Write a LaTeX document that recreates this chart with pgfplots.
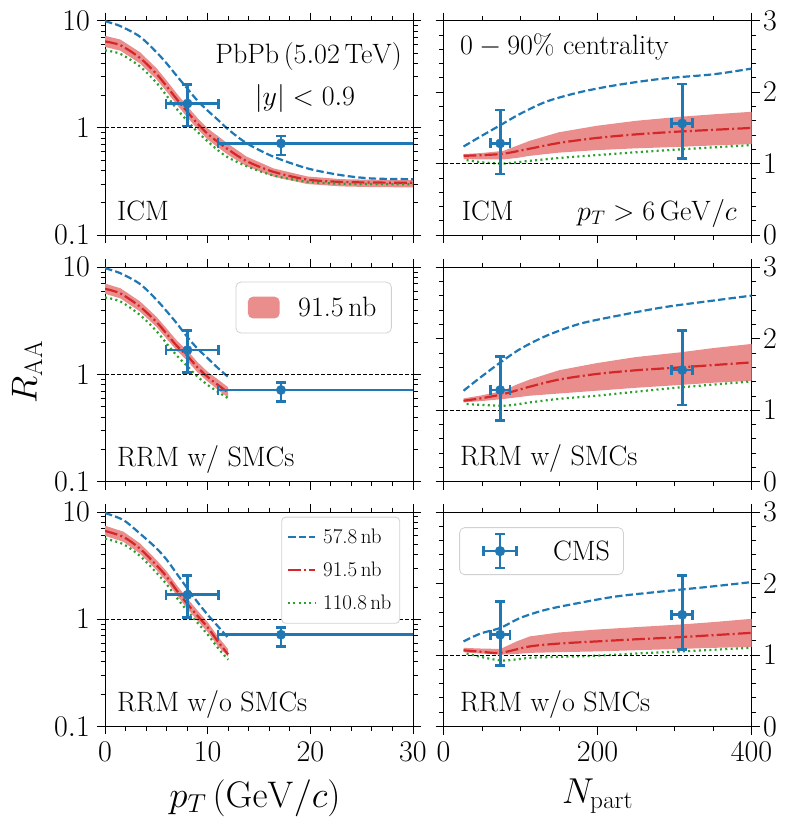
\RequirePackage{fix-cm}
\documentclass[border=0pt]{standalone}
\usepackage{pgfplots}
\pgfplotsset{compat=1.18}
\definecolor{tabblue}{HTML}{1F77B4}
\definecolor{tabred}{HTML}{D62728}
\definecolor{tabgreen}{HTML}{2CA02C}
\definecolor{bandred}{RGB}{233,141,141}
\newcommand{\myfs}[1]{\fontsize{#1}{#1}\selectfont}
\tikzset{
  blueline/.style={tabblue, line width=2.2pt, dash pattern=on 7.4pt off 3.2pt, smooth, mark=none},
  redline/.style={tabred, line width=2.2pt, dash pattern=on 12.8pt off 3.2pt on 2pt off 3.2pt, smooth, mark=none},
  greenline/.style={tabgreen, line width=2.2pt, dash pattern=on 2pt off 3.3pt, smooth, mark=none},
  oneline/.style={black, line width=0.9pt, dash pattern=on 4pt off 2pt, mark=none},
  band/.style={fill=bandred, draw=none, mark=none},
  ebar/.style={tabblue, line width=2.7pt, solid, mark=none},
}
\pgfplotsset{every axis/.append style={scale only axis, width=308pt, height=214.5pt,
    tick align=outside, major tick length=8pt, minor tick length=4.5pt}}
\begin{document}
\begin{tikzpicture}
\useasboundingbox (0pt,0pt) rectangle (789pt,-824pt);

% ---------------- top left: ICM ----------------
\begin{axis}[at={(105pt,-20.7pt)}, anchor=north west,
  axis line style={line width=0.9pt}, tick style={line width=0.9pt, black},
  tick label style={font=\myfs{30}, inner sep=2pt}, xticklabel style={yshift=-5pt}, yticklabel style={xshift=-5pt},
  ymode=log, ymin=0.1, ymax=10, xmin=0, xmax=30,
  xtick={0,10,20,30}, minor xtick={2,4,6,8,12,14,16,18,22,24,26,28}, xticklabels={},
  ytick={0.1,1,10}, yticklabels={$0.1$,$1$,$10$},
  minor ytick={0.2,0.3,0.4,0.5,0.6,0.7,0.8,0.9,2,3,4,5,6,7,8,9}]
\addplot[band, forget plot] coordinates {(0,7.23) (1.5,6.67) (3.4,5.09) (5,3.62) (6,2.77) (7,2.09) (8,1.60) (9,1.24) (10,0.99) (11,0.84) (12,0.71) (13.8,0.54) (16.4,0.42) (19.7,0.353) (23,0.333) (26,0.329) (30,0.326)
 (30,0.279) (26,0.281) (23,0.285) (19.7,0.30) (16.4,0.352) (13.8,0.44) (12,0.56) (11,0.66) (10,0.78) (9,0.98) (8,1.26) (7,1.65) (6,2.18) (5,2.85) (3.4,4.0) (1.5,5.25) (0,5.70)};
\addplot[blueline, forget plot] coordinates {(0,9.9) (1.5,8.9) (3.4,7.1) (5,5.1) (6,4.0) (7,3.05) (8,2.34) (9,1.8) (10,1.45) (11,1.19) (12,0.97) (13.8,0.72) (16.4,0.54) (19.7,0.42) (23,0.363) (26,0.338) (30,0.333)};
\addplot[redline, forget plot] coordinates {(0,6.4) (1.5,5.9) (3.4,4.5) (5,3.2) (6,2.45) (7,1.85) (8,1.42) (9,1.1) (10,0.88) (11,0.74) (12,0.63) (13.8,0.49) (16.4,0.39) (19.7,0.33) (23,0.314) (26,0.31) (30,0.308)};
\addplot[greenline, forget plot] coordinates {(0,5.3) (1.5,4.9) (3.4,3.75) (5,2.65) (6,2.0) (7,1.5) (8,1.17) (9,0.92) (10,0.75) (11,0.62) (12,0.53) (13.8,0.44) (16.4,0.36) (19.7,0.315) (23,0.302) (26,0.3) (30,0.298)};
\addplot[oneline, forget plot] coordinates {(0,1) (30,1)};
\addplot[ebar, forget plot] coordinates {(8.03,1.04) (8.03,2.56)};
\addplot[ebar, forget plot] coordinates {(5.95,1.69) (11.06,1.69)};
\addplot[ebar, forget plot] coordinates {(17.14,0.56) (17.14,0.84)};
\addplot[ebar, forget plot] coordinates {(11.0,0.718) (50,0.718)};
\addplot[tabblue, only marks, mark=-, mark size=5pt, mark options={line width=2.7pt, solid}, forget plot] coordinates {(8.03,1.04) (8.03,2.56) (17.14,0.56) (17.14,0.84)};
\addplot[tabblue, only marks, mark=|, mark size=5pt, mark options={line width=2.7pt, solid}, forget plot] coordinates {(5.95,1.69) (11.06,1.69) (11.0,0.718)};
\addplot[tabblue, only marks, mark=*, mark size=4.7pt, forget plot] coordinates {(8.03,1.69) (17.14,0.718)};
\end{axis}

% ---------------- middle left: RRM w/ SMCs ----------------
\begin{axis}[at={(105pt,-267.3pt)}, anchor=north west,
  axis line style={line width=0.9pt}, tick style={line width=0.9pt, black},
  tick label style={font=\myfs{30}, inner sep=2pt}, xticklabel style={yshift=-5pt}, yticklabel style={xshift=-5pt},
  ymode=log, ymin=0.1, ymax=10, xmin=0, xmax=30,
  xtick={0,10,20,30}, minor xtick={2,4,6,8,12,14,16,18,22,24,26,28}, xticklabels={},
  ytick={0.1,1,10}, yticklabels={$0.1$,$1$,$10$},
  minor ytick={0.2,0.3,0.4,0.5,0.6,0.7,0.8,0.9,2,3,4,5,6,7,8,9},
  legend style={at={(0.931,0.933)}, anchor=north east, font=\myfs{28}, inner xsep=12pt, inner ysep=12pt,
    nodes={inner sep=3pt}, draw=black!18, line width=0.8pt, rounded corners=5pt, fill=white},
  legend image code/.code={\path[draw=none, fill=none] (0pt,-10.85pt) rectangle (47.3pt,10.85pt); \fill[bandred] (0pt,-10.85pt) rectangle (31.7pt,10.85pt);}]
\addplot[band] coordinates {(0,7.06) (1.5,6.38) (3.4,4.82) (5,3.47) (6,2.69) (7,2.07) (8,1.68) (9,1.31) (10,1.06) (11,0.90) (12,0.76)
 (12,0.61) (11,0.72) (10,0.86) (9,1.05) (8,1.35) (7,1.67) (6,2.16) (5,2.79) (3.4,3.87) (1.5,5.13) (0,5.67)};
\addlegendentry{91.5\,nb}
\addplot[blueline, forget plot] coordinates {(0,9.8) (1.5,8.8) (3.4,7.0) (5,5.0) (6,3.9) (7,3.0) (8,2.25) (9,1.75) (10,1.42) (11,1.15) (12,0.95)};
\addplot[redline, forget plot] coordinates {(0,6.3) (1.5,5.7) (3.4,4.3) (5,3.1) (6,2.4) (7,1.85) (8,1.5) (9,1.17) (10,0.95) (11,0.8) (12,0.68)};
\addplot[greenline, forget plot] coordinates {(0,5.24) (1.5,4.8) (3.4,3.6) (5,2.55) (6,1.95) (7,1.5) (8,1.2) (9,0.96) (10,0.8) (11,0.69) (12,0.6)};
\addplot[oneline, forget plot] coordinates {(0,1) (30,1)};
\addplot[ebar, forget plot] coordinates {(8.03,1.04) (8.03,2.56)};
\addplot[ebar, forget plot] coordinates {(5.95,1.69) (11.06,1.69)};
\addplot[ebar, forget plot] coordinates {(17.14,0.56) (17.14,0.84)};
\addplot[ebar, forget plot] coordinates {(11.0,0.718) (50,0.718)};
\addplot[tabblue, only marks, mark=-, mark size=5pt, mark options={line width=2.7pt, solid}, forget plot] coordinates {(8.03,1.04) (8.03,2.56) (17.14,0.56) (17.14,0.84)};
\addplot[tabblue, only marks, mark=|, mark size=5pt, mark options={line width=2.7pt, solid}, forget plot] coordinates {(5.95,1.69) (11.06,1.69) (11.0,0.718)};
\addplot[tabblue, only marks, mark=*, mark size=4.7pt, forget plot] coordinates {(8.03,1.69) (17.14,0.718)};
\end{axis}

% ---------------- bottom left: RRM w/o SMCs ----------------
\begin{axis}[at={(105pt,-512pt)}, anchor=north west,
  axis line style={line width=0.9pt}, tick style={line width=0.9pt, black},
  tick label style={font=\myfs{30}, inner sep=2pt}, xticklabel style={yshift=-5pt}, yticklabel style={xshift=-5pt},
  ymode=log, ymin=0.1, ymax=10, xmin=0, xmax=30,
  xtick={0,10,20,30}, minor xtick={2,4,6,8,12,14,16,18,22,24,26,28}, xticklabels={$0$,$10$,$20$,$30$},
  ytick={0.1,1,10}, yticklabels={$0.1$,$1$,$10$},
  minor ytick={0.2,0.3,0.4,0.5,0.6,0.7,0.8,0.9,2,3,4,5,6,7,8,9},
  legend style={at={(0.958,0.978)}, anchor=north east, font=\myfs{21}, inner xsep=5.3pt, inner ysep=9pt, row sep=11pt,
    nodes={inner sep=3pt}, draw=black!18, line width=0.8pt, rounded corners=4pt, fill=white},
  legend cell align=left,
  legend image code/.code={\path[draw=none, fill=none] (0pt,0pt) -- (32pt,0pt); \draw[#1] (0pt,0pt) -- (26.7pt,0pt);}]
\addplot[band, forget plot] coordinates {(0,7.46) (1.8,6.55) (3.4,5.11) (5,3.58) (6,2.8) (7,2.07) (8,1.57) (9,1.21) (10,0.94) (11,0.69) (12,0.525)
 (12,0.447) (11,0.56) (10,0.76) (9,0.97) (8,1.26) (7,1.67) (6,2.25) (5,2.88) (3.4,4.1) (1.8,5.27) (0,6.0)};
\addplot[blueline] coordinates {(0,9.8) (1.8,8.4) (3.4,6.3) (5,4.6) (6,3.6) (7,2.65) (8,1.95) (9,1.45) (10,1.1) (11,0.86) (12,0.67)};
\addlegendentry{57.8\,nb}
\addplot[redline] coordinates {(0,6.66) (1.8,5.85) (3.4,4.56) (5,3.2) (6,2.5) (7,1.85) (8,1.4) (9,1.08) (10,0.84) (11,0.62) (12,0.47)};
\addlegendentry{91.5\,nb}
\addplot[greenline] coordinates {(0,5.65) (1.8,5.0) (3.4,3.9) (5,2.72) (6,2.12) (7,1.58) (8,1.2) (9,0.93) (10,0.72) (11,0.54) (12,0.42)};
\addlegendentry{110.8\,nb}
\addplot[oneline, forget plot] coordinates {(0,1) (30,1)};
\addplot[ebar, forget plot] coordinates {(8.03,1.04) (8.03,2.56)};
\addplot[ebar, forget plot] coordinates {(5.95,1.69) (11.06,1.69)};
\addplot[ebar, forget plot] coordinates {(17.14,0.56) (17.14,0.84)};
\addplot[ebar, forget plot] coordinates {(11.0,0.718) (50,0.718)};
\addplot[tabblue, only marks, mark=-, mark size=5pt, mark options={line width=2.7pt, solid}, forget plot] coordinates {(8.03,1.04) (8.03,2.56) (17.14,0.56) (17.14,0.84)};
\addplot[tabblue, only marks, mark=|, mark size=5pt, mark options={line width=2.7pt, solid}, forget plot] coordinates {(5.95,1.69) (11.06,1.69) (11.0,0.718)};
\addplot[tabblue, only marks, mark=*, mark size=4.7pt, forget plot] coordinates {(8.03,1.69) (17.14,0.718)};
\end{axis}

% ---------------- top right ----------------
\begin{axis}[at={(443.5pt,-20.7pt)}, anchor=north west,
  axis line style={line width=0.9pt}, tick style={line width=0.9pt, black},
  tick label style={font=\myfs{30}, inner sep=2pt}, xticklabel style={yshift=-5pt}, yticklabel style={xshift=1.5pt},
  xmin=0, xmax=400, ymin=0, ymax=3,
  xtick={0,200,400}, minor xtick={50,100,150,250,300,350}, xticklabels={},
  ytick={0,1,2,3}, yticklabels={$0$,$1$,$2$,$3$},
  minor ytick={0.2,0.4,0.6,0.8,1.2,1.4,1.6,1.8,2.2,2.4,2.6,2.8},
  yticklabel pos=right]
\addplot[band, forget plot] coordinates {(26,1.134) (50,1.15) (78,1.18) (95,1.25) (112,1.32) (150,1.44) (199,1.53) (250,1.60) (307,1.656) (350,1.69) (400,1.726)
 (400,1.274) (350,1.255) (307,1.236) (250,1.215) (199,1.19) (150,1.155) (112,1.11) (95,1.08) (78,1.06) (50,1.06) (26,1.064)};
\addplot[blueline, forget plot] coordinates {(26,1.24) (48,1.38) (74,1.54) (100,1.70) (134,1.87) (177,2.0) (225,2.1) (285,2.19) (350,2.25) (400,2.33)};
\addplot[redline, forget plot] coordinates {(26,1.11) (50,1.12) (78,1.14) (112,1.21) (150,1.29) (199,1.36) (250,1.41) (307,1.45) (400,1.50)};
\addplot[greenline, forget plot] coordinates {(30,1.05) (50,1.02) (78,1.003) (112,1.04) (150,1.08) (199,1.12) (250,1.16) (307,1.2) (400,1.26)};
\addplot[oneline, forget plot] coordinates {(0,1) (400,1)};
\addplot[ebar, forget plot] coordinates {(73.6,0.854) (73.6,1.75)};
\addplot[ebar, forget plot] coordinates {(60.6,1.284) (86.5,1.284)};
\addplot[ebar, forget plot] coordinates {(310,1.074) (310,2.114)};
\addplot[ebar, forget plot] coordinates {(296,1.563) (323,1.563)};
\addplot[tabblue, only marks, mark=-, mark size=5pt, mark options={line width=2.7pt, solid}, forget plot] coordinates {(73.6,0.854) (73.6,1.75) (310,1.074) (310,2.114)};
\addplot[tabblue, only marks, mark=|, mark size=5pt, mark options={line width=2.7pt, solid}, forget plot] coordinates {(60.6,1.284) (86.5,1.284) (296,1.563) (323,1.563)};
\addplot[tabblue, only marks, mark=*, mark size=4.7pt, forget plot] coordinates {(73.6,1.284) (310,1.563)};
\end{axis}

% ---------------- middle right ----------------
\begin{axis}[at={(443.5pt,-267.3pt)}, anchor=north west,
  axis line style={line width=0.9pt}, tick style={line width=0.9pt, black},
  tick label style={font=\myfs{30}, inner sep=2pt}, xticklabel style={yshift=-5pt}, yticklabel style={xshift=1.5pt},
  xmin=0, xmax=400, ymin=0, ymax=3,
  xtick={0,200,400}, minor xtick={50,100,150,250,300,350}, xticklabels={},
  ytick={0,1,2,3}, yticklabels={$0$,$1$,$2$,$3$},
  minor ytick={0.2,0.4,0.6,0.8,1.2,1.4,1.6,1.8,2.2,2.4,2.6,2.8},
  yticklabel pos=right]
\addplot[band, forget plot] coordinates {(26,1.166) (50,1.21) (78,1.274) (95,1.36) (112,1.43) (150,1.56) (199,1.66) (250,1.745) (307,1.81) (350,1.87) (400,1.928)
 (400,1.414) (350,1.385) (307,1.354) (250,1.315) (199,1.274) (150,1.235) (112,1.204) (78,1.158) (50,1.13) (26,1.11)};
\addplot[blueline, forget plot] coordinates {(26,1.274) (48,1.46) (74,1.67) (100,1.86) (134,2.044) (177,2.21) (225,2.32) (285,2.44) (350,2.534) (400,2.604)};
\addplot[redline, forget plot] coordinates {(26,1.134) (50,1.17) (78,1.228) (112,1.33) (150,1.43) (199,1.508) (250,1.56) (307,1.6) (400,1.67)};
\addplot[greenline, forget plot] coordinates {(30,1.088) (78,1.064) (112,1.11) (150,1.16) (199,1.204) (250,1.26) (307,1.32) (400,1.404)};
\addplot[oneline, forget plot] coordinates {(0,1) (400,1)};
\addplot[ebar, forget plot] coordinates {(73.6,0.854) (73.6,1.75)};
\addplot[ebar, forget plot] coordinates {(60.6,1.284) (86.5,1.284)};
\addplot[ebar, forget plot] coordinates {(310,1.074) (310,2.114)};
\addplot[ebar, forget plot] coordinates {(296,1.563) (323,1.563)};
\addplot[tabblue, only marks, mark=-, mark size=5pt, mark options={line width=2.7pt, solid}, forget plot] coordinates {(73.6,0.854) (73.6,1.75) (310,1.074) (310,2.114)};
\addplot[tabblue, only marks, mark=|, mark size=5pt, mark options={line width=2.7pt, solid}, forget plot] coordinates {(60.6,1.284) (86.5,1.284) (296,1.563) (323,1.563)};
\addplot[tabblue, only marks, mark=*, mark size=4.7pt, forget plot] coordinates {(73.6,1.284) (310,1.563)};
\end{axis}

% ---------------- bottom right ----------------
\begin{axis}[at={(443.5pt,-512pt)}, anchor=north west,
  axis line style={line width=0.9pt}, tick style={line width=0.9pt, black},
  tick label style={font=\myfs{30}, inner sep=2pt}, xticklabel style={yshift=-5pt}, yticklabel style={xshift=1.5pt},
  xmin=0, xmax=400, ymin=0, ymax=3,
  xtick={0,200,400}, minor xtick={50,100,150,250,300,350}, xticklabels={$0$,$200$,$400$},
  ytick={0,1,2,3}, yticklabels={$0$,$1$,$2$,$3$},
  minor ytick={0.2,0.4,0.6,0.8,1.2,1.4,1.6,1.8,2.2,2.4,2.6,2.8},
  yticklabel pos=right,
  legend style={at={(0.051,0.929)}, anchor=north west, font=\myfs{28}, inner xsep=10.5pt, inner ysep=5pt,
    nodes={inner sep=3pt}, draw=black!18, line width=0.8pt, rounded corners=5pt, fill=white}]
\addplot[band, forget plot] coordinates {(26,1.10) (50,1.09) (74,1.085) (95,1.19) (112,1.26) (150,1.315) (199,1.356) (250,1.39) (307,1.426) (350,1.46) (400,1.506)
 (400,1.113) (350,1.10) (307,1.085) (250,1.067) (199,1.05) (150,1.04) (112,1.03) (95,1.015) (74,1.005) (50,1.02) (26,1.037)};
\addplot[blueline, forget plot] coordinates {(26,1.19) (48,1.30) (74,1.38) (100,1.52) (134,1.636) (177,1.73) (225,1.82) (285,1.89) (350,1.96) (400,2.02)};
\addplot[redline, forget plot] coordinates {(26,1.066) (50,1.045) (74,1.03) (112,1.12) (150,1.16) (199,1.19) (250,1.22) (307,1.25) (400,1.31)};
\addplot[greenline, forget plot] coordinates {(30,1.02) (74,0.925) (112,0.96) (150,0.975) (199,0.99) (250,1.02) (307,1.05) (400,1.10)};
\addplot[oneline, forget plot] coordinates {(0,1) (400,1)};
\addplot[ebar, forget plot] coordinates {(73.6,0.854) (73.6,1.75)};
\addplot[ebar, forget plot] coordinates {(60.6,1.284) (86.5,1.284)};
\addplot[ebar, forget plot] coordinates {(310,1.074) (310,2.114)};
\addplot[ebar, forget plot] coordinates {(296,1.563) (323,1.563)};
\addplot[tabblue, only marks, mark=-, mark size=5pt, mark options={line width=2.7pt, solid}, forget plot] coordinates {(73.6,0.854) (73.6,1.75) (310,1.074) (310,2.114)};
\addplot[tabblue, only marks, mark=|, mark size=5pt, mark options={line width=2.7pt, solid}, forget plot] coordinates {(60.6,1.284) (86.5,1.284) (296,1.563) (323,1.563)};
\addplot[tabblue, only marks, mark=*, mark size=4.7pt, legend image code/.code={
    \path[draw=none, fill=none] (0pt,-18.5pt) rectangle (80pt,18.5pt);
    \draw[tabblue, line width=2.7pt, solid] (13.2pt,0pt) -- (46.6pt,0pt);
    \draw[tabblue, line width=2.7pt, solid] (29.9pt,-17pt) -- (29.9pt,17pt);
    \draw[tabblue, line width=2.7pt, solid] (13.2pt,-5pt) -- (13.2pt,5pt) (46.6pt,-5pt) -- (46.6pt,5pt) (24.9pt,17pt) -- (34.9pt,17pt) (24.9pt,-17pt) -- (34.9pt,-17pt);
    \fill[tabblue] (29.9pt,0pt) circle (4.7pt);}]
  coordinates {(73.6,1.284) (310,1.563)};
\addlegendentry{CMS}
\end{axis}

% ---------------- texts ----------------
\node[anchor=base east, inner sep=0pt, font=\myfs{28}] at (402pt,-64pt) {$\mathrm{PbPb\,(5.02\,TeV)}$};
\node[anchor=base, inner sep=0pt, font=\myfs{28}] at (305pt,-106pt) {$|y|<0.9$};
\node[anchor=base west, inner sep=0pt, font=\myfs{28}] at (117pt,-220pt) {ICM};
\node[anchor=base west, inner sep=0pt, font=\myfs{28}] at (117pt,-466pt) {RRM w/ SMCs};
\node[anchor=base west, inner sep=0pt, font=\myfs{28}] at (117pt,-711.5pt) {RRM w/o SMCs};
\node[anchor=base west, inner sep=0pt, font=\myfs{28}] at (460pt,-55pt) {$0-90\%$ centrality};
\node[anchor=base west, inner sep=0pt, font=\myfs{28}] at (461.7pt,-220pt) {ICM};
\node[anchor=base east, inner sep=0pt, font=\myfs{28}] at (737pt,-220pt) {$p_T>6\,\mathrm{GeV}/c$};
\node[anchor=base west, inner sep=0pt, font=\myfs{28}] at (460pt,-465pt) {RRM w/ SMCs};
\node[anchor=base west, inner sep=0pt, font=\myfs{28}] at (460pt,-711.5pt) {RRM w/o SMCs};
\node[rotate=90, inner sep=0pt, font=\myfs{36}] at (27pt,-372pt) {$R_{\mathrm{AA}}$};
\node[anchor=base, inner sep=0pt, font=\myfs{37}] at (255pt,-807pt) {$p_T\,(\mathrm{GeV}/c)$};
\node[anchor=base, inner sep=0pt, font=\myfs{36}] at (597.5pt,-803pt) {$N_{\mathrm{part}}$};
\end{tikzpicture}
\end{document}
